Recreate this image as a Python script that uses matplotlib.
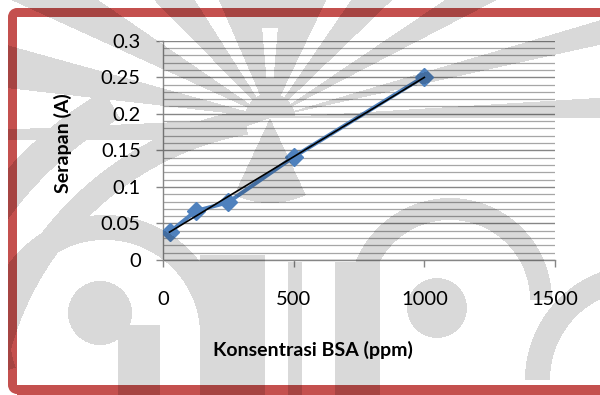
import numpy as np
import matplotlib.pyplot as plt
from matplotlib.ticker import MultipleLocator
from matplotlib.patches import Rectangle, Wedge

plt.rcParams['font.family'] = ['Lato', 'DejaVu Sans']

# BSA standard curve
konsentrasi = [25, 125, 250, 500, 1000]       # ppm
serapan = [0.038, 0.067, 0.079, 0.141, 0.251]  # absorbance (A)

x_ticks = [0, 500, 1000, 1500]
y_ticks = [0, 0.05, 0.1, 0.15, 0.2, 0.25, 0.3]
y_tick_labels = ['0', '0.05', '0.1', '0.15', '0.2', '0.25', '0.3']

W, H = 600, 395
fig = plt.figure(figsize=(W / 100, H / 100), dpi=100)
fig.patch.set_facecolor('white')

# page frame (rounded red border, top/left/bottom)
bg = fig.add_axes([0, 0, 1, 1], zorder=0)
bg.set_xlim(0, W)
bg.set_ylim(H, 0)
bg.axis('off')
red = '#c4504e'
bg.add_patch(Rectangle((17, 8), W, 9, color=red, lw=0))
bg.add_patch(Rectangle((8, 17), 9, 368, color=red, lw=0))
bg.add_patch(Rectangle((17, 385), W, 10, color=red, lw=0))
bg.add_patch(Wedge((17, 17), 9, 180, 270, color=red, lw=0))
bg.add_patch(Wedge((17, 385), 9, 90, 180, color=red, lw=0))

ax = fig.add_axes([163 / W, 1 - 260 / H, (555 - 163) / W, (260 - 40.7) / H], zorder=2)
ax.set_facecolor('none')

ax.set_xlim(0, 1500)
ax.set_ylim(0, 0.3)
ax.set_xticks(x_ticks)
ax.set_yticks(y_ticks)
ax.set_yticklabels(y_tick_labels)
ax.yaxis.set_minor_locator(MultipleLocator(0.01))
ax.grid(axis='y', which='major', color='#868686', lw=1.0)
ax.grid(axis='y', which='minor', color='#a6a6a6', lw=0.9)
ax.set_axisbelow(True)
ax.tick_params(axis='y', which='minor', length=0)
ax.tick_params(axis='both', which='major', length=5, width=1, color='#868686',
               labelsize=14.5, labelcolor='black')
ax.tick_params(axis='y', pad=11)
ax.tick_params(axis='x', pad=17)
for s in ['top', 'right']:
    ax.spines[s].set_visible(False)
for s in ['left', 'bottom']:
    ax.spines[s].set_color('#868686')
    ax.spines[s].set_linewidth(1)

ax.plot(konsentrasi, serapan, color='#4f81bd', lw=2.9, marker='D',
        markersize=9.5, markerfacecolor='#4f81bd', markeredgecolor='#4f81bd',
        zorder=3)

# linear trendline
k, b = np.polyfit(konsentrasi, serapan, 1)
xt = np.array([min(konsentrasi), max(konsentrasi)])
ax.plot(xt, k * xt + b, color='black', lw=1.2, zorder=4)

fig.text(313 / W, 1 - 350 / H, 'Konsentrasi BSA (ppm)', fontsize=14,
         fontweight='bold', ha='center', va='center')
fig.text(63 / W, 1 - 143 / H, 'Serapan (A)', fontsize=14, fontweight='bold',
         rotation=90, ha='center', va='center')

# faint logo watermark laid over the page
yy, xx = np.mgrid[0:H, 0:W] + 0.5


def ring(cx, cy, r0, r1, a0=0, a1=360):
    d = np.hypot(xx - cx, yy - cy)
    a = np.degrees(np.arctan2(cy - yy, xx - cx)) % 360
    if a0 <= a1:
        sel = (a >= a0) & (a <= a1)
    else:
        sel = (a >= a0) | (a <= a1)
    return (d >= r0) & (d <= r1) & sel


def box(x0, y0, x1, y1):
    return (xx >= x0) & (xx <= x1) & (yy >= y0) & (yy <= y1)


# crown rays
mask = ring(270, 118, 0, 700, 0, 200) & (yy < 140)
for a, w in [(8, 9), (22, 11), (39, 10), (60, 9), (118, 9), (140, 11), (160, 9), (178, 9)]:
    mask &= ~ring(270, 118, 25, 700, a - w / 2, a + w / 2)
mask &= ~ring(270, 118, 40, 90, 85, 95)
mask |= ring(270, 118, 0, 85, 245, 295)
# side arcs
mask |= ring(300, 430, 300, 325, 100, 170)
mask |= ring(300, 430, 360, 392, 120, 160)
# lower columns
mask |= box(200, 255, 265, H) | box(288, 262, 302, H) | box(335, 262, 380, H)
# curls at the bottom
mask |= ring(105, 335, 95, 120, 0, 200)
mask |= ring(100, 313, 0, 32)
mask |= box(118, 325, 160, H)
mask |= ring(450, 300, 80, 102, 0, 180)
mask |= ring(437, 308, 0, 30)
mask |= ring(640, 380, 90, 115, 100, 180)
mask &= ~box(0, 0, 8, H)

shade = np.zeros((H, W, 4))
shade[..., 3] = np.where(mask, 0.15, 0.0)
ov = fig.add_axes([0, 0, 1, 1], zorder=5)
ov.imshow(shade, extent=(0, W, H, 0), interpolation='nearest')
ov.set_xlim(0, W)
ov.set_ylim(H, 0)
ov.axis('off')

fig.savefig('out.png', dpi=100)
